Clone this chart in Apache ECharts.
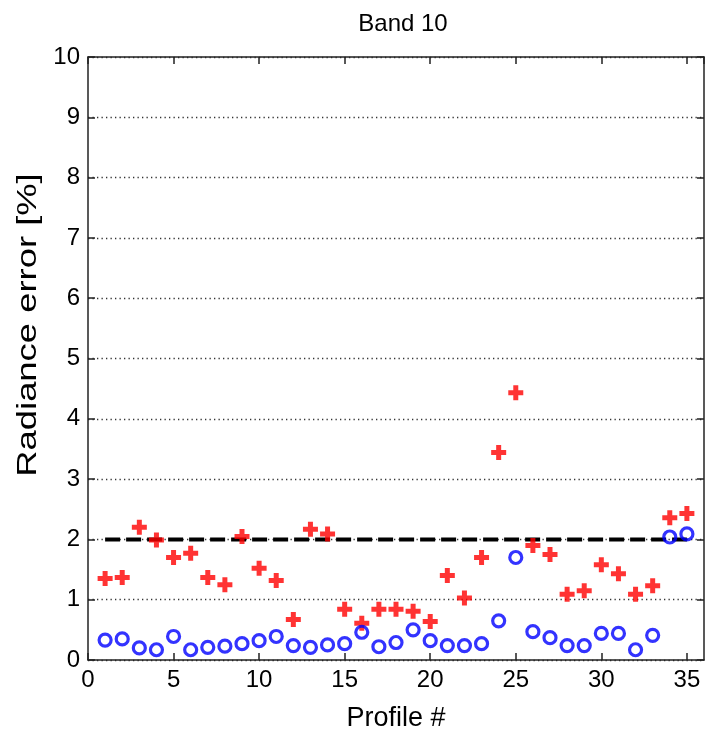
<!DOCTYPE html>
<html>
<head>
<meta charset="utf-8">
<script src="https://cdn.jsdelivr.net/npm/echarts@6/dist/echarts.min.js"></script>
<style>
html,body{margin:0;padding:0;background:#fff;}
#chart{width:706px;height:737px;}
</style>
</head>
<body>
<div id="chart"></div>
<script>
const profiles = [1,2,3,4,5,6,7,8,9,10,11,12,13,14,15,16,17,18,19,20,21,22,23,24,25,26,27,28,29,30,31,32,33,34,35];
const redErrors = [1.35,1.37,2.20,1.99,1.70,1.77,1.37,1.25,2.05,1.52,1.32,0.67,2.17,2.09,0.84,0.61,0.84,0.84,0.81,0.64,1.40,1.03,1.70,3.44,4.43,1.90,1.75,1.09,1.15,1.58,1.43,1.09,1.23,2.36,2.43];
const blueErrors = [0.33,0.35,0.20,0.17,0.39,0.17,0.21,0.23,0.27,0.32,0.39,0.24,0.21,0.25,0.27,0.46,0.22,0.29,0.50,0.32,0.24,0.24,0.27,0.65,1.70,0.47,0.37,0.24,0.24,0.44,0.44,0.17,0.41,2.04,2.09];
const thresholdX = [1, 35];
const thresholdY = 2;
const xTicks = [0,5,10,15,20,25,30,35];
const yTicks = [0,1,2,3,4,5,6,7,8,9,10];
const titleText = 'Band 10';
const xLabel = 'Profile #';
const yLabel = 'Radiance error [%]';

const FONT = 'Liberation Sans';
const plus = 'path://M4,0 H8 V4 H12 V8 H8 V12 H4 V8 H0 V4 H4 Z';

const chart = echarts.init(document.getElementById('chart'), null, {renderer:'canvas'});
const axisLine = {show:true, onZero:false, lineStyle:{color:'#222', width:1.5}};
const tick = {show:true, inside:true, length:7, lineStyle:{color:'#222', width:1.5}};
const option = {
  animation:false,
  backgroundColor:'#fff',
  title:{text:titleText, left:398, top:7, textAlign:'center',
    textStyle:{fontFamily:FONT, fontSize:24, fontWeight:'normal', color:'#000'}},
  grid:{left:88, right:2, top:57, bottom:69, containLabel:false},
  graphic:[{
    type:'text', x:28, y:325, rotation:Math.PI/2, scaleX:1.4, scaleY:1.05,
    style:{text:yLabel, fontFamily:FONT, fontSize:26, fill:'#000', align:'center', verticalAlign:'middle'}
  }],
  xAxis:[{
    type:'value', min:0, max:36, interval:5, position:'bottom',
    name:xLabel, nameLocation:'middle', nameGap:45,
    nameTextStyle:{fontFamily:FONT, fontSize:27, color:'#000'},
    axisLine:axisLine, axisTick:tick,
    axisLabel:{fontFamily:FONT, fontSize:24, color:'#000', margin:8, showMaxLabel:false,
      formatter:v=> xTicks.indexOf(v)>=0 ? String(v) : ''},
    splitLine:{show:false}
  },{
    type:'value', min:0, max:36, interval:5, position:'top',
    axisLine:axisLine, axisTick:tick,
    axisLabel:{show:false}, splitLine:{show:false}
  }],
  yAxis:[{
    type:'value', min:0, max:10, interval:1, position:'left',
    axisLine:axisLine, axisTick:tick,
    axisLabel:{fontFamily:FONT, fontSize:24, color:'#000', margin:8,
      formatter:v=> yTicks.indexOf(v)>=0 ? String(v) : ''},
    splitLine:{show:true, lineStyle:{color:'#333', width:1.3, type:[1.3,3.2]}}
  },{
    type:'value', min:0, max:10, interval:1, position:'right',
    axisLine:axisLine, axisTick:tick,
    axisLabel:{show:false}, splitLine:{show:false}
  }],
  series:[{
    type:'line', data:thresholdX.map(x=>[x,thresholdY]), symbol:'none', silent:true,
    lineStyle:{color:'#000', width:4, type:[15,6]}, z:2
  },{
    type:'scatter', data:profiles.map((p,i)=>[p, redErrors[i]]),
    symbol:plus, symbolSize:15, itemStyle:{color:'#ff0000'}, z:3
  },{
    type:'scatter', data:profiles.map((p,i)=>[p, blueErrors[i]]),
    symbol:'circle', symbolSize:12,
    itemStyle:{color:'rgba(0,0,0,0)', borderColor:'#0000ff', borderWidth:3.2}, z:4
  }]
};
chart.setOption(option);
</script>
</body>
</html>
